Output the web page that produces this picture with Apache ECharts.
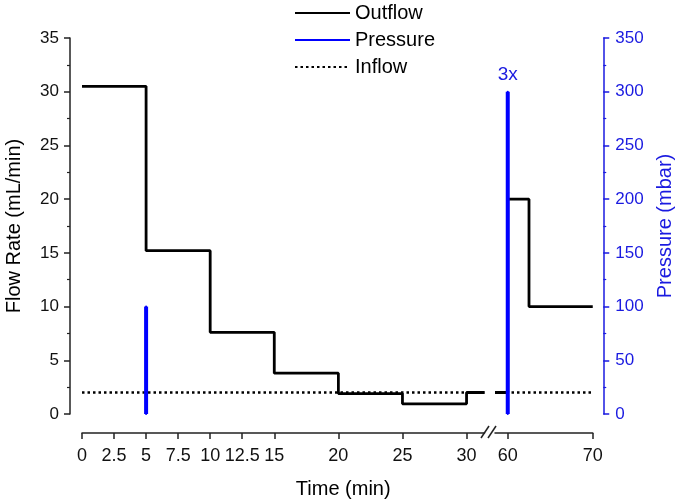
<!DOCTYPE html>
<html>
<head>
<meta charset="utf-8">
<script src="https://cdn.jsdelivr.net/npm/echarts@6/dist/echarts.min.js"></script>
<style>
html, body { margin: 0; padding: 0; background: #fff; }
#chart { width: 679px; height: 502px; }
</style>
</head>
<body>
<div id="chart"></div>
<script>
// outflow before the axis break (step: value holds until next time)
const outflowTimeA = [0, 5, 10, 15, 20, 25, 30, 31.4];
const outflowRateA = [30.5, 15.2, 7.6, 3.8, 1.9, 0.95, 2, 2];
// outflow after the break
const outflowTimeB = [58.5, 60, 62.5, 70];
const outflowRateB = [2, 20, 10, 10];
// inflow is constant
const inflowTimeA = [0, 31.4];
const inflowTimeB = [58.5, 70];
const inflowRate = 2;
// pressure pulses (mbar)
const pulseTimes = [5, 60];
const pulsePressure = [100, 300];
const pulseLabels = ['', '3x'];
// tick labels on the two parts of the time axis
const timeTicksA = [0, 2.5, 5, 7.5, 10, 12.5, 15, 20, 25, 30];
const timeTicksB = [60, 70];

const font = "'Liberation Sans', Arial, sans-serif";
const blue = '#0000ff';
const blueText = '#1a1ae0';
const axisColor = '#222';

const pairs = (xs, ys) => xs.map((x, i) => [x, ys[i]]);

const pulseSeries = pulseTimes.map((t, i) => {
  const right = t > 31.4;
  return {
    name: 'Pressure',
    type: 'line',
    xAxisIndex: right ? 1 : 0,
    yAxisIndex: right ? 1 : 2,
    symbol: 'circle',
    symbolSize: 2,
    showSymbol: true,
    lineStyle: { color: blue, width: 4, cap: 'butt' },
    itemStyle: { color: blue },
    data: [
      [t, 0],
      {
        value: [t, pulsePressure[i]],
        label: {
          show: pulseLabels[i] !== '',
          formatter: pulseLabels[i],
          position: 'top',
          distance: 6,
          color: blueText,
          fontSize: 19,
          fontFamily: font
        }
      }
    ],
    z: 5
  };
});

function flowAxis(gridIndex, show) {
  return {
    type: 'value',
    gridIndex: gridIndex,
    show: show,
    min: 0,
    max: 35,
    interval: 5,
    position: 'left',
    offset: 12,
    name: 'Flow Rate (mL/min)',
    nameLocation: 'middle',
    nameGap: 46,
    nameTextStyle: { fontSize: 20, color: '#000', fontFamily: font },
    axisLine: { show: true, onZero: false, lineStyle: { color: axisColor, width: 1.5 } },
    axisTick: { show: true, length: 6, lineStyle: { color: axisColor, width: 1.5 } },
    minorTick: { show: true, splitNumber: 2, length: 3, lineStyle: { color: axisColor, width: 1.2 } },
    axisLabel: { fontSize: 17, color: '#111', margin: 11, fontFamily: font },
    splitLine: { show: false }
  };
}

function pressureAxis(gridIndex, show) {
  return {
    type: 'value',
    gridIndex: gridIndex,
    show: show,
    min: 0,
    max: 350,
    interval: 50,
    position: 'right',
    offset: 10.5,
    name: 'Pressure (mbar)',
    nameLocation: 'middle',
    nameGap: 52,
    nameRotate: 90,
    nameTextStyle: { fontSize: 20, color: blueText, fontFamily: font },
    axisLine: { show: true, onZero: false, lineStyle: { color: blueText, width: 1.5 } },
    axisTick: { show: true, length: 6, lineStyle: { color: blueText, width: 1.5 } },
    minorTick: { show: true, splitNumber: 2, length: 3, lineStyle: { color: blueText, width: 1.2 } },
    axisLabel: { fontSize: 17, color: blueText, margin: 12, fontFamily: font },
    splitLine: { show: false }
  };
}

function timeAxis(gridIndex, min, max, ticks, withName) {
  return {
    type: 'value',
    gridIndex: gridIndex,
    min: min,
    max: max,
    offset: 19,
    name: withName ? 'Time (min)' : '',
    nameLocation: 'middle',
    nameGap: 46,
    nameTextStyle: { fontSize: 20, color: '#000', fontFamily: font, padding: [0, 0, 0, 120] },
    axisLine: { show: true, onZero: false, lineStyle: { color: axisColor, width: 1.5 } },
    axisTick: { show: true, length: 6, customValues: ticks, lineStyle: { color: axisColor, width: 1.5 } },
    axisLabel: { fontSize: 18, color: '#111', margin: 14, customValues: ticks, fontFamily: font },
    splitLine: { show: false }
  };
}

const chart = echarts.init(document.getElementById('chart'));
chart.setOption({
  animation: false,
  backgroundColor: '#fff',
  textStyle: { fontFamily: font },
  legend: {
    data: ['Outflow', 'Pressure', 'Inflow'],
    orient: 'vertical',
    left: 289,
    top: -2,
    itemWidth: 55,
    itemHeight: 14,
    itemGap: 7,
    itemStyle: { opacity: 0 },
    textStyle: { fontSize: 20, color: '#000', fontFamily: font }
  },
  grid: [
    { left: 82, top: 38, width: 402.5, height: 376, outerBoundsMode: 'none' },
    { left: 495, top: 38, width: 97.75, height: 376, outerBoundsMode: 'none' }
  ],
  xAxis: [
    timeAxis(0, 0, 31.4, timeTicksA, true),
    timeAxis(1, 58.5, 70, timeTicksB, false)
  ],
  yAxis: [
    flowAxis(0, true),
    pressureAxis(1, true),
    pressureAxis(0, false),
    flowAxis(1, false)
  ],
  graphic: [
    { type: 'line', shape: { x1: 481, y1: 438, x2: 489, y2: 426 }, style: { stroke: axisColor, lineWidth: 1.5 } },
    { type: 'line', shape: { x1: 488, y1: 438, x2: 496, y2: 426 }, style: { stroke: axisColor, lineWidth: 1.5 } }
  ],
  series: [
    {
      name: 'Inflow', type: 'line', xAxisIndex: 0, yAxisIndex: 0, symbol: 'none',
      lineStyle: { color: '#000', width: 2.5, type: [2.5, 3] },
      itemStyle: { color: '#000' },
      data: inflowTimeA.map(t => [t, inflowRate]), z: 2
    },
    {
      name: 'Inflow', type: 'line', xAxisIndex: 1, yAxisIndex: 3, symbol: 'none',
      lineStyle: { color: '#000', width: 2.5, type: [2.5, 3] },
      itemStyle: { color: '#000' },
      data: inflowTimeB.map(t => [t, inflowRate]), z: 2
    },
    {
      name: 'Outflow', type: 'line', step: 'end', xAxisIndex: 0, yAxisIndex: 0, symbol: 'none',
      lineStyle: { color: '#000', width: 2.8 },
      itemStyle: { color: '#000' },
      data: pairs(outflowTimeA, outflowRateA), z: 3
    },
    {
      name: 'Outflow', type: 'line', step: 'end', xAxisIndex: 1, yAxisIndex: 3, symbol: 'none',
      lineStyle: { color: '#000', width: 2.8 },
      itemStyle: { color: '#000' },
      data: pairs(outflowTimeB, outflowRateB), z: 3
    }
  ].concat(pulseSeries)
});
</script>
</body>
</html>
